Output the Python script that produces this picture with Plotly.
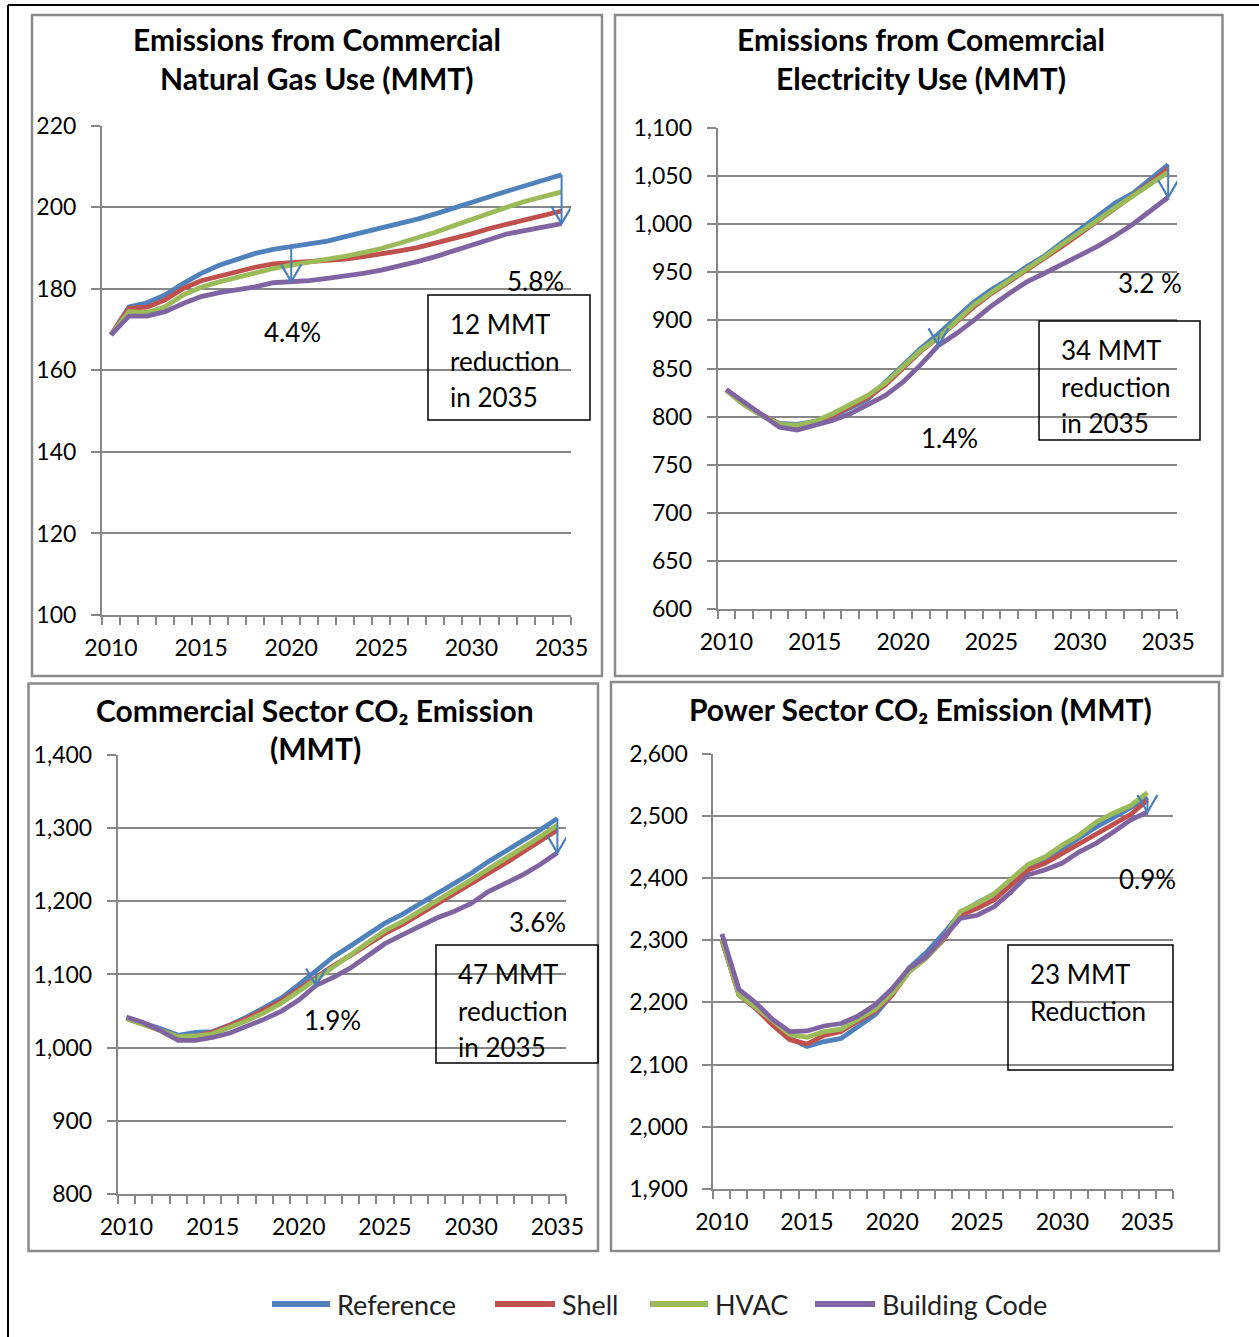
import plotly.graph_objects as go

W, H = 1259, 1337

years = list(range(2010, 2036))
series_names = ["Reference", "Shell", "HVAC", "Building Code"]
series_colors = ["#4F81BD", "#C0504D", "#9BBB59", "#8064A2"]

# Emissions from commercial natural gas use (MMT)
gas_reference = [168.7, 175.6, 176.6, 178.5, 181.3, 183.8, 185.8, 187.3, 188.7, 189.7,
                 190.3, 191.0, 191.7, 192.8, 193.8, 194.8, 195.9, 197.1, 198.4, 199.7,
                 201.1, 202.6, 204.0, 205.3, 206.5, 208.0]
gas_shell = [168.7, 175.2, 175.5, 177.3, 180.1, 182.0, 183.1, 184.2, 185.3, 186.1,
             186.4, 186.6, 186.9, 187.3, 187.9, 188.5, 189.3, 190.1, 191.2, 192.3,
             193.5, 194.8, 195.9, 196.9, 197.9, 199.1]
gas_hvac = [168.7, 174.4, 174.2, 175.6, 178.5, 180.4, 181.7, 182.8, 183.8, 185.0,
            185.8, 186.5, 187.2, 188.0, 188.9, 189.9, 191.2, 192.4, 193.9, 195.5,
            197.1, 198.8, 200.1, 201.5, 202.8, 203.8]
gas_building_code = [168.7, 173.3, 173.3, 174.4, 176.4, 178.1, 179.1, 179.7, 180.5, 181.5,
                     181.8, 182.0, 182.6, 183.1, 183.8, 184.6, 185.6, 186.7, 187.9, 189.4,
                     190.8, 192.1, 193.5, 194.4, 195.2, 196.0]

# Emissions from commercial electricity use (MMT)
elec_reference = [828, 813, 801, 793, 792, 795, 800, 809, 818, 836,
                  853, 871, 886, 903, 919, 932, 943, 956, 967, 981,
                  994, 1008, 1022, 1032, 1047, 1062]
elec_shell = [828, 813, 802, 792, 790, 792, 801, 810, 820, 833,
              850, 868, 882, 898, 914, 928, 940, 953, 965, 977,
              990, 1003, 1016, 1029, 1043, 1058]
elec_hvac = [827, 812, 801, 792, 791, 795, 803, 812, 822, 835,
             852, 869, 882, 899, 916, 929, 941, 954, 966, 979,
             991, 1004, 1017, 1029, 1042, 1054]
elec_building_code = [828, 815, 802, 789, 786, 791, 796, 803, 812, 822,
                      836, 854, 874, 886, 900, 915, 928, 940, 949, 958,
                      967, 977, 988, 1000, 1014, 1028]

# Commercial sector CO2 emission (MMT)
comm_reference = [1041, 1034, 1026, 1017, 1021, 1022, 1031, 1042, 1055, 1068,
                  1086, 1106, 1124, 1139, 1154, 1170, 1182, 1196, 1209, 1224,
                  1238, 1254, 1268, 1282, 1297, 1313]
comm_shell = [1040, 1032, 1024, 1014, 1016, 1021, 1030, 1040, 1052, 1064,
              1080, 1097, 1112, 1126, 1141, 1156, 1168, 1182, 1196, 1209,
              1223, 1238, 1252, 1267, 1282, 1297]
comm_hvac = [1040, 1032, 1024, 1015, 1016, 1019, 1028, 1037, 1048, 1061,
             1077, 1094, 1110, 1127, 1144, 1160, 1172, 1186, 1200, 1214,
             1229, 1244, 1258, 1273, 1288, 1304]
comm_building_code = [1042, 1034, 1023, 1010, 1010, 1014, 1020, 1029, 1039, 1050,
                      1065, 1085, 1096, 1109, 1125, 1142, 1154, 1165, 1177, 1186,
                      1197, 1213, 1224, 1236, 1250, 1266]

# Power sector CO2 emission (MMT)
power_reference = [2300, 2212, 2190, 2165, 2142, 2129, 2137, 2142, 2161, 2180,
                   2212, 2255, 2280, 2310, 2343, 2360, 2374, 2397, 2418, 2430,
                   2448, 2466, 2482, 2497, 2512, 2529]
power_shell = [2300, 2212, 2190, 2163, 2140, 2133, 2147, 2153, 2170, 2186,
               2212, 2250, 2272, 2300, 2340, 2351, 2365, 2389, 2413, 2424,
               2440, 2456, 2470, 2486, 2502, 2525]
power_hvac = [2302, 2212, 2192, 2169, 2148, 2144, 2153, 2157, 2172, 2189,
              2215, 2249, 2271, 2302, 2346, 2359, 2375, 2399, 2422, 2434,
              2453, 2469, 2490, 2504, 2516, 2537]
power_building_code = [2310, 2221, 2199, 2172, 2153, 2154, 2162, 2166, 2178, 2196,
                       2222, 2255, 2273, 2303, 2335, 2340, 2354, 2378, 2405, 2413,
                       2424, 2442, 2456, 2474, 2493, 2506]

FONT = "Lato"
GRID = "#878787"
ARROW_BLUE = "#4A7EBB"

panels = [
    dict(series=[gas_reference, gas_shell, gas_hvac, gas_building_code],
         plot=(102, 570.6, 125.8, 615), frame=(32, 602, 15, 676),
         xmax=2035.5, yrange=(100, 220), dtick=20, fmt="d",
         title=[("<b>Emissions from Commercial</b>", 317, 39),
                ("<b>Natural Gas Use (MMT)</b>", 317, 78)],
         pct=[("4.4%", 292, 332), ("5.8%", 535, 281)],
         box=(428, 590, 295, 420), box_lines=["12 MMT", "reduction", "in 2035"],
         arrows=[2020, 2035]),
    dict(series=[elec_reference, elec_shell, elec_hvac, elec_building_code],
         plot=(717.6, 1177, 128, 609), frame=(615, 1222.5, 15, 676),
         xmax=2035.5, yrange=(600, 1100), dtick=50, fmt=",d",
         title=[("<b>Emissions from Comemrcial</b>", 921, 39),
                ("<b>Electricity Use (MMT)</b>", 921, 78)],
         pct=[("3.2 %", 1150, 283), ("1.4%", 949, 438)],
         box=(1039, 1200, 321, 440), box_lines=["34 MMT", "reduction", "in 2035"],
         arrows=[2022, 2035]),
    dict(series=[comm_reference, comm_shell, comm_hvac, comm_building_code],
         plot=(117.8, 566, 754.6, 1194.3), frame=(28.5, 598, 683.5, 1251),
         xmax=2035.5, yrange=(800, 1400), dtick=100, fmt=",d",
         title=[("<b>Commercial Sector CO\u2082 Emission</b>", 315, 710),
                ("<b>(MMT)</b>", 315, 748)],
         pct=[("3.6%", 537, 922), ("1.9%", 332, 1020)],
         box=(436, 598, 945, 1063), box_lines=["47 MMT", "reduction", "in 2035"],
         arrows=[2021, 2035]),
    dict(series=[power_reference, power_shell, power_hvac, power_building_code],
         plot=(713.4, 1173, 753.5, 1189), frame=(611, 1219, 682, 1251),
         xmax=2036.5, yrange=(1900, 2600), dtick=100, fmt=",d",
         title=[("<b>Power Sector CO\u2082 Emission (MMT)</b>", 920, 709)],
         pct=[("0.9%", 1147, 879)],
         box=(1008, 1173, 945, 1070), box_lines=["23 MMT", "Reduction"],
         arrows=[2035]),
]


def fx(px):
    return px / W


def fy(py):
    return 1 - py / H


fig = go.Figure()
shapes = []
annotations = []

for i, p in enumerate(panels, start=1):
    xa = "x" if i == 1 else f"x{i}"
    ya = "y" if i == 1 else f"y{i}"
    x0, x1, y0, y1 = p["plot"]

    for name, color, values in zip(series_names, series_colors, p["series"]):
        fig.add_trace(go.Scatter(
            x=years, y=values, mode="lines", name=name,
            line=dict(color=color, width=4.8),
            xaxis=xa, yaxis=ya, showlegend=False,
        ))

    xkey = "xaxis" if i == 1 else f"xaxis{i}"
    ykey = "yaxis" if i == 1 else f"yaxis{i}"
    fig.update_layout({
        xkey: dict(
            domain=[fx(x0), fx(x1)], anchor=ya,
            range=[2009.5, p["xmax"]],
            tickmode="array", tickvals=[2010, 2015, 2020, 2025, 2030, 2035],
            ticks="", showgrid=False, zeroline=False, automargin=False,
            showline=True, linecolor=GRID, linewidth=2,
            tickfont=dict(family=FONT, size=23, color="black"),
            ticklabelstandoff=11,
            minor=dict(tick0=2009.5, dtick=1, ticks="outside", ticklen=8,
                       tickcolor=GRID, tickwidth=2, showgrid=False),
            fixedrange=True,
        ),
        ykey: dict(
            domain=[fy(y1), fy(y0)], anchor=xa,
            range=list(p["yrange"]), dtick=p["dtick"], tick0=p["yrange"][0],
            tickformat=p["fmt"], automargin=False,
            ticks="outside", ticklen=9, tickcolor=GRID, tickwidth=2,
            showgrid=True, gridcolor=GRID, gridwidth=2,
            zeroline=False, showline=True, linecolor=GRID, linewidth=2,
            tickfont=dict(family=FONT, size=23, color="black"),
            ticklabelstandoff=10,
            fixedrange=True,
        ),
    })

    # panel frame
    fx0, fx1, fy0, fy1 = p["frame"]
    shapes.append(dict(type="rect", xref="paper", yref="paper",
                       x0=fx(fx0), x1=fx(fx1), y0=fy(fy1), y1=fy(fy0),
                       line=dict(color="#8A8A8A", width=2.5), layer="below"))

    for text, cx, cy in p["title"]:
        annotations.append(dict(text=text, xref="paper", yref="paper",
                                x=fx(cx), y=fy(cy), xanchor="center", yanchor="middle",
                                showarrow=False,
                                font=dict(family=FONT, size=30, color="black")))

    for text, cx, cy in p["pct"]:
        annotations.append(dict(text=text, xref="paper", yref="paper",
                                x=fx(cx), y=fy(cy), xanchor="center", yanchor="middle",
                                showarrow=False,
                                font=dict(family=FONT, size=26, color="black")))

    bx0, bx1, by0, by1 = p["box"]
    shapes.append(dict(type="rect", xref="paper", yref="paper",
                       x0=fx(bx0), x1=fx(bx1), y0=fy(by1), y1=fy(by0),
                       line=dict(color="black", width=1.5), fillcolor="rgba(0,0,0,0)"))
    for k, line in enumerate(p["box_lines"]):
        annotations.append(dict(text=line, xref="paper", yref="paper",
                                x=fx(bx0 + 20), y=fy(by0 + 29 + 36.5 * k),
                                xanchor="left", yanchor="middle", showarrow=False,
                                font=dict(family=FONT, size=26, color="black")))

    # reduction arrows: from the Reference value down to the Building Code value
    ref_vals, bc_vals = p["series"][0], p["series"][3]
    for yr in p["arrows"]:
        k = years.index(yr)
        shapes.append(dict(type="line", xref=xa, yref=ya,
                           x0=yr, x1=yr, y0=ref_vals[k], y1=bc_vals[k],
                           line=dict(color=ARROW_BLUE, width=2)))
        shapes.append(dict(type="path", xref=xa, yref=ya,
                           xsizemode="pixel", ysizemode="pixel",
                           xanchor=yr, yanchor=bc_vals[k],
                           path="M-10,17 L0,0 L10,17",
                           line=dict(color=ARROW_BLUE, width=2.2)))

# shared legend along the bottom
legend_items = [(272, 330, 335), (495, 555, 560), (650, 708, 713), (815, 875, 880)]
for (sx0, sx1, tx), name, color in zip(legend_items, series_names, series_colors):
    shapes.append(dict(type="line", xref="paper", yref="paper",
                       x0=fx(sx0), x1=fx(sx1), y0=fy(1304), y1=fy(1304),
                       line=dict(color=color, width=6)))
    annotations.append(dict(text=name, xref="paper", yref="paper",
                            x=fx(tx), y=fy(1304), xanchor="left", yanchor="middle",
                            showarrow=False,
                            font=dict(family=FONT, size=27, color="#222222")))

# page rules along the top and left edges
shapes.append(dict(type="line", xref="paper", yref="paper",
                   x0=fx(8), x1=1, y0=fy(5), y1=fy(5),
                   line=dict(color="black", width=2)))
shapes.append(dict(type="line", xref="paper", yref="paper",
                   x0=fx(8), x1=fx(8), y0=fy(5), y1=0,
                   line=dict(color="black", width=2)))

fig.update_layout(
    width=W, height=H,
    margin=dict(l=0, r=0, t=0, b=0, pad=0, autoexpand=False),
    paper_bgcolor="white", plot_bgcolor="white",
    showlegend=False,
    shapes=shapes, annotations=annotations,
    font=dict(family=FONT, color="black"),
)

fig.write_html("out.html", config={"displayModeBar": False})
